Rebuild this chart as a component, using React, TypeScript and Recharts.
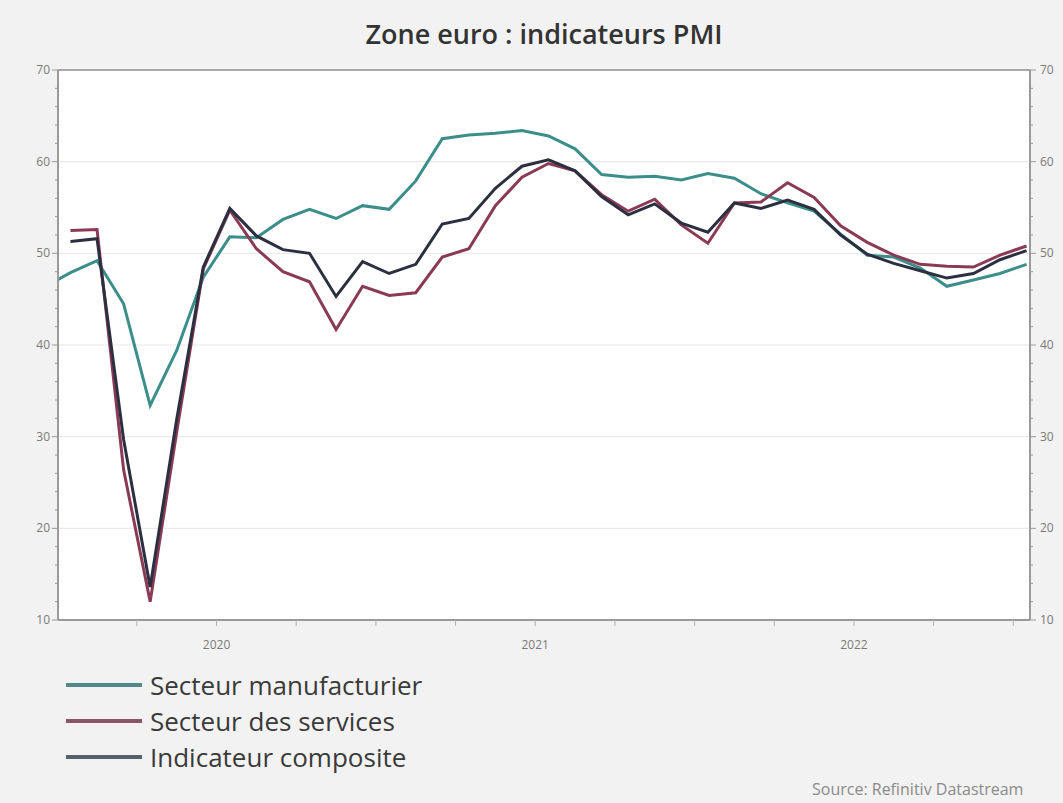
import React from "react";
import {
  LineChart,
  Line,
  XAxis,
  YAxis,
  CartesianGrid,
  ReferenceLine,
} from "recharts";

// Month labels, Dec 2019 through Jan 2023
const MONTHS = [
  "2019-12",
  "2020-01", "2020-02", "2020-03", "2020-04", "2020-05", "2020-06",
  "2020-07", "2020-08", "2020-09", "2020-10", "2020-11", "2020-12",
  "2021-01", "2021-02", "2021-03", "2021-04", "2021-05", "2021-06",
  "2021-07", "2021-08", "2021-09", "2021-10", "2021-11", "2021-12",
  "2022-01", "2022-02", "2022-03", "2022-04", "2022-05", "2022-06",
  "2022-07", "2022-08", "2022-09", "2022-10", "2022-11", "2022-12",
  "2023-01",
];

const MANUFACTURING = [
  46.3,
  47.9, 49.2, 44.5, 33.4, 39.4, 47.4, 51.8, 51.7, 53.7, 54.8, 53.8, 55.2,
  54.8, 57.9, 62.5, 62.9, 63.1, 63.4, 62.8, 61.4, 58.6, 58.3, 58.4, 58.0,
  58.7, 58.2, 56.5, 55.5, 54.6, 52.1, 49.8, 49.6, 48.4, 46.4, 47.1, 47.8,
  48.8,
];

const SERVICES = [
  null,
  52.5, 52.6, 26.4, 12.0, 30.5, 48.3, 54.7, 50.5, 48.0, 46.9, 41.7, 46.4,
  45.4, 45.7, 49.6, 50.5, 55.2, 58.3, 59.8, 59.0, 56.4, 54.6, 55.9, 53.1,
  51.1, 55.5, 55.6, 57.7, 56.1, 53.0, 51.2, 49.8, 48.8, 48.6, 48.5, 49.8,
  50.8,
];

const COMPOSITE = [
  null,
  51.3, 51.6, 29.7, 13.6, 31.9, 48.5, 54.9, 51.9, 50.4, 50.0, 45.3, 49.1,
  47.8, 48.8, 53.2, 53.8, 57.1, 59.5, 60.2, 59.0, 56.2, 54.2, 55.4, 53.3,
  52.3, 55.5, 54.9, 55.8, 54.8, 52.0, 49.9, 48.9, 48.1, 47.3, 47.8, 49.3,
  50.3,
];

// quarter boundaries (month index, Jan 2020 = 0), year labels mid-year
const X_TICKS = [2.5, 5.5, 8.5, 11.5, 14.5, 17.5, 20.5, 23.5, 26.5, 29.5, 32.5, 35.5];
const YEAR_LABELS: Record<string, string> = { "5.5": "2020", "17.5": "2021", "29.5": "2022" };

const Y_MAJOR = [10, 20, 30, 40, 50, 60, 70];
const Y_TICKS = Array.from({ length: 31 }, (_, i) => 10 + i * 2);

// both axes share the same 10-70 scale
const SERIES = [
  { key: "manu", name: "Secteur manufacturier", color: "#3b8e8a", legend: "#4f8a88", axis: "left" },
  { key: "serv", name: "Secteur des services", color: "#8a3a55", legend: "#8c5566", axis: "left" },
  { key: "comp", name: "Indicateur composite", color: "#2b2f40", legend: "#56606c", axis: "right" },
];

const data = MONTHS.map((m, i) => ({
  t: i - 1,
  month: m,
  manu: MANUFACTURING[i],
  serv: SERVICES[i],
  comp: COMPOSITE[i],
}));

const FONT = "'Open Sans', 'Liberation Sans', sans-serif";
const LEFT_X = 58;
const RIGHT_X = 1030;

function renderYTick(side: "left" | "right") {
  return (props: any) => {
    const { y, payload } = props;
    const v = payload.value;
    const major = v % 10 === 0;
    const len = major ? 6 : 3;
    const axisX = side === "left" ? LEFT_X : RIGHT_X;
    const x2 = side === "left" ? axisX - len : axisX + len;
    const tx = side === "left" ? axisX - 8 : axisX + 10;
    return (
      <g key={`${side}-${v}`}>
        <line x1={axisX} y1={y} x2={x2} y2={y} stroke="#9a9a9a" strokeWidth={1} />
        {major && (
          <text
            x={tx}
            y={y}
            dy={4}
            textAnchor={side === "left" ? "end" : "start"}
            fill="#7a7a7a"
            fontSize={12}
            fontFamily={FONT}
          >
            {v}
          </text>
        )}
      </g>
    );
  };
}

export default function App() {
  return (
    <div
      style={{
        position: "absolute",
        left: 0,
        top: 0,
        width: 1063,
        height: 803,
        background: "#f2f2f2",
        overflow: "hidden",
        fontFamily: FONT,
      }}
    >
      <div
        style={{
          position: "absolute",
          left: 0,
          width: 1088,
          top: 15,
          textAlign: "center",
          fontSize: 27,
          fontWeight: 600,
          color: "#333",
        }}
      >
        Zone euro : indicateurs PMI
      </div>

      <div style={{ position: "absolute", left: 0, top: 0 }}>
        <LineChart
          width={1063}
          height={660}
          data={data}
          margin={{ top: 70, right: 0, bottom: 0, left: 0 }}
        >
          <CartesianGrid
            yAxisId="left"
            vertical={false}
            horizontalValues={Y_MAJOR}
            stroke="#e6e6e6"
            fill="#ffffff"
          />
          <XAxis
            dataKey="t"
            type="number"
            domain={[-0.47, 36.13]}
            allowDataOverflow
            ticks={X_TICKS}
            interval={0}
            tickFormatter={(v) => YEAR_LABELS[String(v)] ?? ""}
            tick={{ fill: "#7a7a7a", fontSize: 12, fontFamily: FONT }}
            tickSize={6}
            tickMargin={14}
            tickLine={{ stroke: "#b0b0b0" }}
            axisLine={{ stroke: "#9a9a9a", strokeWidth: 2 }}
            height={40}
          />
          <YAxis
            yAxisId="left"
            orientation="left"
            domain={[10, 70]}
            allowDataOverflow
            ticks={Y_TICKS}
            interval={0}
            width={58}
            tickLine={false}
            axisLine={{ stroke: "#9a9a9a", strokeWidth: 2 }}
            tick={renderYTick("left")}
          />
          <YAxis
            yAxisId="right"
            orientation="right"
            domain={[10, 70]}
            allowDataOverflow
            ticks={Y_TICKS}
            interval={0}
            width={33}
            tickLine={false}
            axisLine={{ stroke: "#9a9a9a", strokeWidth: 2 }}
            tick={renderYTick("right")}
          />
          <ReferenceLine yAxisId="left" y={70} stroke="#a8a8a8" strokeWidth={2} />
          {SERIES.map((s) => (
            <Line
              key={s.key}
              yAxisId={s.axis}
              type="linear"
              dataKey={s.key}
              name={s.name}
              stroke={s.color}
              strokeWidth={3}
              dot={false}
              activeDot={false}
              isAnimationActive={false}
            />
          ))}
        </LineChart>
      </div>

      {SERIES.map((s, i) => (
        <div
          key={s.key}
          style={{
            position: "absolute",
            left: 66,
            top: 668 + i * 36,
            height: 34,
            display: "flex",
            alignItems: "center",
          }}
        >
          <div style={{ width: 76, height: 4, background: s.legend, marginRight: 8 }} />
          <span style={{ fontSize: 26, color: "#3a3a3a", whiteSpace: "nowrap" }}>{s.name}</span>
        </div>
      ))}

      <div
        style={{
          position: "absolute",
          left: 812,
          top: 780,
          fontSize: 16,
          lineHeight: "18px",
          color: "#8a8a8a",
          whiteSpace: "nowrap",
        }}
      >
        Source: Refinitiv Datastream
      </div>
    </div>
  );
}
